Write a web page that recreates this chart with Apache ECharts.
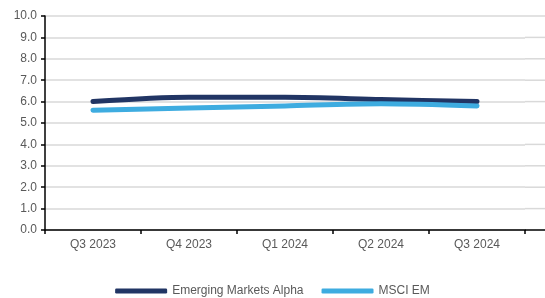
<!DOCTYPE html>
<html>
<head>
<meta charset="utf-8">
<script src="https://cdn.jsdelivr.net/npm/echarts@6/dist/echarts.min.js"></script>
<style>
  html, body { margin: 0; padding: 0; background: #fff; }
  #chart { width: 545px; height: 298px; }
</style>
</head>
<body>
<div id="chart"></div>
<script>
const quarters = ['Q3 2023', 'Q4 2023', 'Q1 2024', 'Q2 2024', 'Q3 2024']
const emAlpha = [6.0, 6.2, 6.2, 6.1, 6.0]
const msciEm = [5.6, 5.7, 5.8, 5.9, 5.8]
const yTicks = [0, 1, 2, 3, 4, 5, 6, 7, 8, 9, 10]

const textFont = 'Liberation Sans'
const chart = echarts.init(document.getElementById('chart'))

chart.setOption({
  animation: false,
  grid: { left: 45, right: 20, top: 16, bottom: 68 },
  legend: {
    bottom: -4,
    itemWidth: 52,
    itemHeight: 5,
    itemGap: 18,
    icon: 'roundRect',
    textStyle: { color: '#595959', fontSize: 12, fontFamily: textFont },
    data: ['Emerging Markets Alpha', 'MSCI EM']
  },
  xAxis: {
    type: 'category',
    data: quarters,
    boundaryGap: true,
    axisLine: { lineStyle: { color: '#000', width: 1.5 } },
    axisTick: { show: true, length: 4, lineStyle: { color: '#000', width: 1.5 } },
    axisLabel: { color: '#595959', fontSize: 12, fontFamily: textFont, margin: 9 }
  },
  yAxis: {
    type: 'value',
    min: 0,
    max: 10,
    interval: 1,
    axisLine: { show: true, lineStyle: { color: '#000', width: 1.5 } },
    axisTick: { show: true, length: 4, lineStyle: { color: '#000', width: 1.5 } },
    axisLabel: {
      color: '#595959', fontSize: 12, fontFamily: textFont, margin: 8,
      formatter: v => v.toFixed(1)
    },
    splitLine: { lineStyle: { color: '#d9d9d9', width: 1.5 } }
  },
  series: [
    {
      name: 'Emerging Markets Alpha',
      type: 'line',
      data: emAlpha,
      smooth: 0.3,
      symbol: 'none',
      lineStyle: { color: '#213564', width: 5, cap: 'round' },
      itemStyle: { color: '#213564' }
    },
    {
      name: 'MSCI EM',
      type: 'line',
      data: msciEm,
      smooth: 0.3,
      symbol: 'none',
      lineStyle: { color: '#3eace0', width: 5, cap: 'round' },
      itemStyle: { color: '#3eace0' }
    }
  ]
})

// gridlines run on to the right edge of the picture, past the plot area
const extras = yTicks.map(v => {
  const p = chart.convertToPixel({ gridIndex: 0 }, [quarters.length - 1, v])
  return {
    type: 'line',
    shape: { x1: 525, y1: p[1], x2: 545, y2: p[1] },
    style: { stroke: v === 0 ? '#000' : '#d9d9d9', lineWidth: 1.5 },
    silent: true
  }
})
chart.setOption({ graphic: extras })
</script>
</body>
</html>
